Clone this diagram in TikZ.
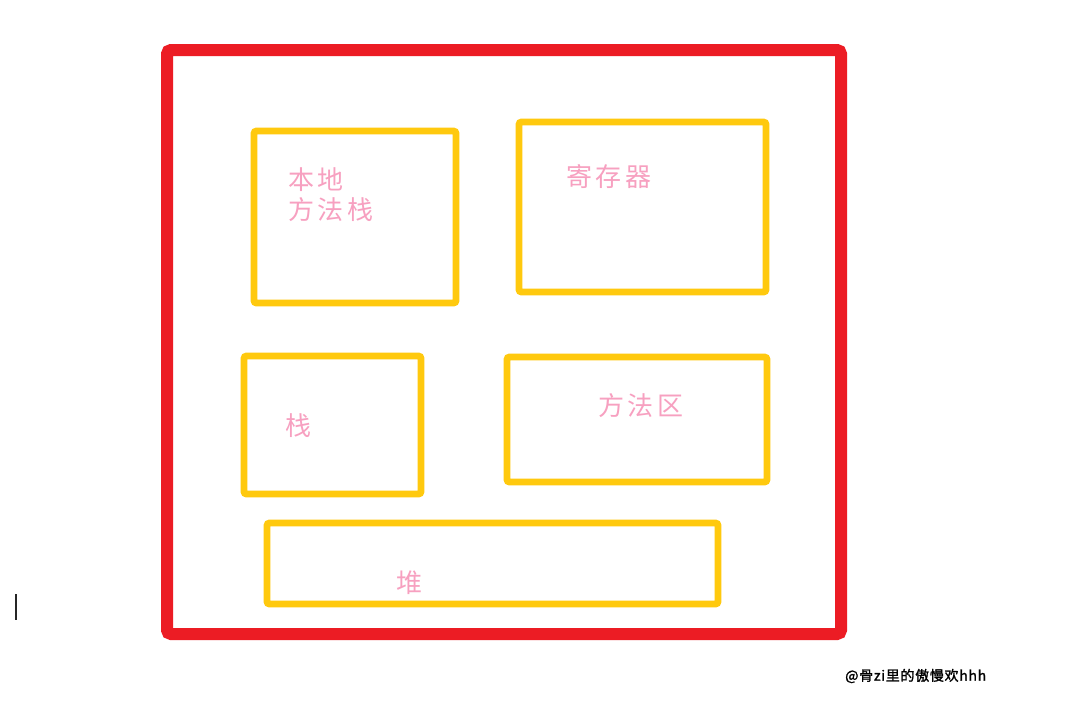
\documentclass[tikz,border=0pt]{standalone}
\usepackage{fontspec}
\newfontfamily\cjk[LetterSpace=14]{Noto Sans CJK SC}
\newfontfamily\wmfont[FakeBold=1.5,LetterSpace=5]{Noto Sans CJK SC}
\definecolor{redframe}{RGB}{236,28,36}
\definecolor{yellowbox}{RGB}{255,201,14}
\definecolor{pinktext}{RGB}{247,160,192}
\tikzset{
  frame/.style={draw=redframe,line width=9pt,rounded corners=3pt},
  area/.style={draw=yellowbox,line width=5.2pt,rounded corners=2pt},
  lab/.style={text=pinktext,font=\cjk\fontsize{19.5}{22.5}\selectfont,inner sep=0pt,anchor=west,align=left},
}
\begin{document}
\begin{tikzpicture}[x=0.75pt,y=-0.75pt]
\useasboundingbox (0,0) rectangle (1079,708);
\fill[white] (0,0) rectangle (1079,708);
% outer frame
\draw[frame] (167,50) rectangle (841,634);
% areas
\draw[area] (254,131) rectangle (456,303);
\draw[area] (519,122) rectangle (766,292);
\draw[area] (244,356) rectangle (421,494);
\draw[area] (507,357) rectangle (767,482);
\draw[area] (267,523) rectangle (718,604);
% labels
\node[lab] (bdffz) at (288,195) {本地\\方法栈};
\node[lab] (jcq) at (566,177) {寄存器};
\node[lab] (ffq) at (598,406) {方法区};
\node[lab] (zhan) at (285,426) {栈};
\node[lab] (dui) at (396,583) {堆};
% watermark
\node[inner sep=0pt,anchor=west,font=\wmfont\fontsize{10.5}{12}\selectfont] (wm) at (845,676) {@骨zi里的傲慢欢hhh};
% text cursor
\draw[line width=1.5pt,black!85] (16,594) -- (16,620);
\end{tikzpicture}
\end{document}
